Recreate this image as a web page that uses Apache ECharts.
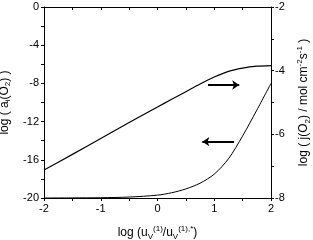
<!DOCTYPE html>
<html>
<head>
<meta charset="utf-8">
<script src="https://cdn.jsdelivr.net/npm/echarts@6/dist/echarts.min.js"></script>
<style>
html,body{margin:0;padding:0;background:#fff;}
#c{width:313px;height:240px;}
</style>
</head>
<body>
<div id="c"></div>
<script>
// log (u_V^(1) / u_V^(1),*)
const xVals = [-2, -1.5, -1, -0.5, 0, 0.25, 0.5, 0.75, 1, 1.25, 1.5, 1.75, 2];
// log ( j(O2) / mol cm^-2 s^-1 )  (right axis)
const fluxVals = [-7.12, -6.63, -6.13, -5.63, -5.14, -4.90, -4.66, -4.42, -4.20, -4.02, -3.92, -3.86, -3.84];
// log ( a_i(O2) )  (left axis)
const activityVals = [-20.0, -19.99, -19.97, -19.9, -19.7, -19.45, -19.05, -18.45, -17.5, -15.9, -13.5, -10.8, -8.0];
const leftTicks = [-20, -16, -12, -8, -4, 0];
const rightTicks = [-8, -6, -4, -2];
const xTicks = [-2, -1, 0, 1, 2];

const FONT = 'Liberation Sans';
const black = '#000';
const richBase = {
  n: {fontSize: 12, lineHeight: 16, color: black, fontFamily: FONT},
  s: {fontSize: 8, lineHeight: 8, verticalAlign: 'bottom', color: black, fontFamily: FONT},
  p: {fontSize: 8, lineHeight: 8, verticalAlign: 'top', color: black, fontFamily: FONT}
};

const chart = echarts.init(document.getElementById('c'), null, {renderer: 'canvas'});
chart.setOption({
  animation: false,
  backgroundColor: '#fff',
  grid: {left: 44, right: 42, top: 7, bottom: 42, containLabel: false, outerBoundsMode: 'none'},
  xAxis: [{
    type: 'value', min: xTicks[0], max: xTicks[xTicks.length - 1], interval: 1,
    position: 'bottom',
    axisLine: {onZero: false, lineStyle: {color: black, width: 1}},
    axisTick: {show: true, inside: false, length: 3, lineStyle: {color: black}},
    minorTick: {show: true, splitNumber: 2, length: 3, lineStyle: {color: black}},
    splitLine: {show: false},
    axisLabel: {color: black, fontSize: 11, fontFamily: FONT, margin: 5},
    name: '{n|log (u}{s|V}{p|(1)}{n|/u}{s|V}{p|(1),*}{n|)}',
    nameLocation: 'middle', nameGap: 27,
    nameTextStyle: {rich: richBase}
  }, {
    type: 'value', min: -2, max: 2, interval: 0.5,
    position: 'top',
    axisLine: {onZero: false, lineStyle: {color: black, width: 1}},
    axisTick: {show: true, inside: true, length: 3, lineStyle: {color: black}},
    axisLabel: {show: false},
    splitLine: {show: false}
  }],
  yAxis: [{
    type: 'value', min: leftTicks[0], max: leftTicks[leftTicks.length - 1], interval: 4,
    position: 'left',
    axisLine: {show: true, onZero: false, lineStyle: {color: black, width: 1}},
    axisTick: {show: true, inside: false, length: 3, lineStyle: {color: black}},
    minorTick: {show: true, splitNumber: 2, length: 3, lineStyle: {color: black}},
    splitLine: {show: false},
    axisLabel: {color: black, fontSize: 11, fontFamily: FONT, margin: 5},
    name: '{n|log ( a}{s|i}{n|(O}{s|2}{n|) )}',
    nameLocation: 'middle', nameGap: 25, nameRotate: 90,
    nameTextStyle: {rich: richBase}
  }, {
    type: 'value', min: rightTicks[0], max: rightTicks[rightTicks.length - 1], interval: 2,
    position: 'right',
    axisLine: {show: true, onZero: false, lineStyle: {color: black, width: 1}},
    axisTick: {show: true, inside: false, length: 3, lineStyle: {color: black}},
    minorTick: {show: true, splitNumber: 2, length: 3, lineStyle: {color: black}},
    splitLine: {show: false},
    axisLabel: {color: black, fontSize: 11, fontFamily: FONT, margin: 4},
    name: '{n|log ( j(O}{s|2}{n|) / mol cm}{p|-2}{n|s}{p|-1}{n| )}',
    nameLocation: 'middle', nameGap: 22, nameRotate: 90,
    nameTextStyle: {rich: richBase}
  }],
  series: [{
    type: 'line', xAxisIndex: 0, yAxisIndex: 1,
    data: xVals.map((x, i) => [x, fluxVals[i]]),
    smooth: 0.3, showSymbol: false,
    lineStyle: {color: black, width: 1.2},
    markLine: {
      silent: true, symbol: ['none', 'arrow'], symbolSize: [7, 7],
      label: {show: false},
      lineStyle: {color: black, width: 2, type: 'solid'},
      data: [[{coord: [0.89, -4.45]}, {coord: [1.44, -4.45]}]]
    }
  }, {
    type: 'line', xAxisIndex: 0, yAxisIndex: 0,
    data: xVals.map((x, i) => [x, activityVals[i]]),
    smooth: 0.3, showSymbol: false,
    lineStyle: {color: black, width: 1},
    markLine: {
      silent: true, symbol: ['arrow', 'none'], symbolSize: [7, 7],
      label: {show: false},
      lineStyle: {color: black, width: 2, type: 'solid'},
      data: [[{coord: [0.79, -14.1]}, {coord: [1.35, -14.1]}]]
    }
  }]
});
</script>
</body>
</html>
